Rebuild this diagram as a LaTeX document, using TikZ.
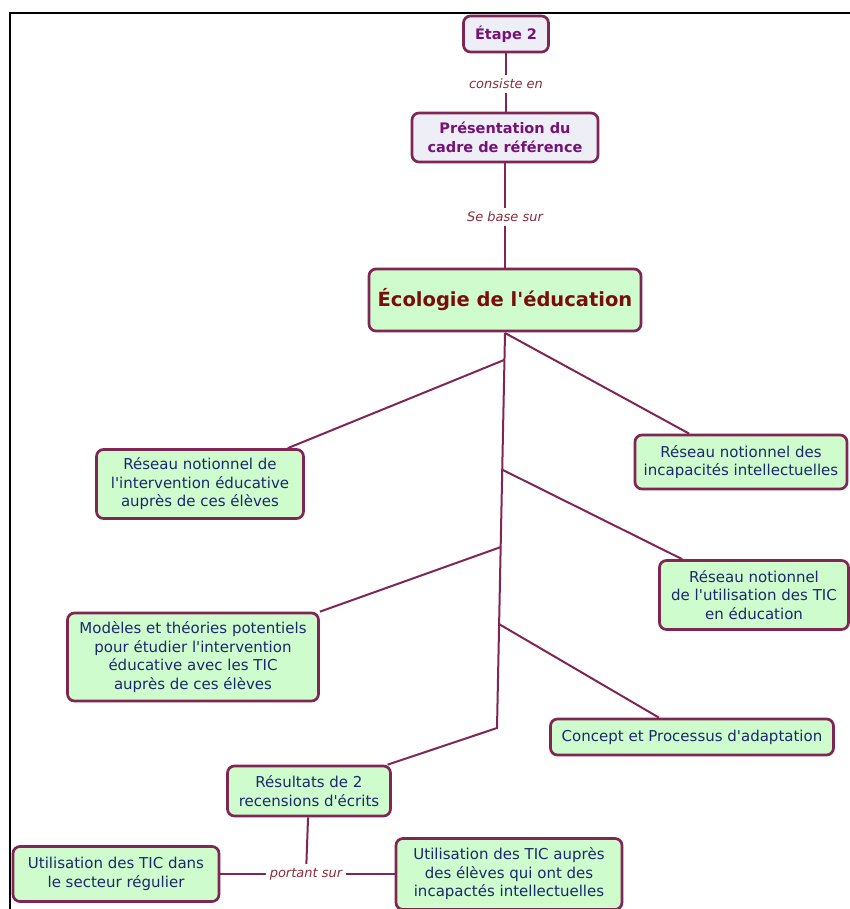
\documentclass[tikz,border=0pt]{standalone}
\usepackage{fontspec}
\setmainfont{DejaVu Sans}
\usetikzlibrary{calc}
\newcommand\sq{\textquotesingle}
\definecolor{bord}{RGB}{128,38,84}
\definecolor{lgreen}{RGB}{206,252,204}
\definecolor{lav}{RGB}{238,238,246}
\definecolor{purp}{RGB}{118,18,118}
\definecolor{ecored}{RGB}{122,12,12}
\definecolor{navy}{RGB}{28,40,108}
\definecolor{linkc}{RGB}{140,44,58}
\tikzset{
  box/.style={draw=bord, line width=2.7pt, rounded corners=7pt, align=center,
    inner sep=0pt, text=navy, font=\fontsize{15}{18.5}\selectfont},
  gbox/.style={box, fill=lgreen},
  pbox/.style={box, fill=lav, text=purp, font=\bfseries\fontsize{14.5}{18.5}\selectfont},
  link/.style={font=\itshape\fontsize{13}{15}\selectfont, text=linkc, inner sep=4pt},
  conn/.style={draw=bord, line width=2pt},
  frame/.style={draw=black, line width=2.6pt}
}
\begin{document}
\begin{tikzpicture}[x=1pt, y=-1pt]
\useasboundingbox (0,0) rectangle (850,909);
\fill[white] (0,0) rectangle (850,909);
% page frame
\draw[frame] (10,909) -- (10,13) -- (850,13);

% upper chain
\node[pbox, minimum width=85, minimum height=36] (etape) at (506,34) {Étape 2};
\node[link] (consiste) at (506,84) {consiste en};
\node[pbox, minimum width=186, minimum height=49] (pres) at (505,137.5) {Présentation du\\cadre de référence};
\node[link] (base) at (505,217) {Se base sur};
\node[gbox, text=ecored, font=\bfseries\fontsize{19.5}{22}\selectfont,
      minimum width=272, minimum height=62] (eco) at (505,300) {Écologie de l\sq éducation};

\draw[conn] (etape) -- (consiste) -- (etape |- pres.north);
\draw[conn] (pres) -- (base) -- (eco);

% concept nodes
\node[gbox, minimum width=207, minimum height=69] (rint) at (200,484)
  {Réseau notionnel de\\l\sq intervention éducative\\auprès de ces élèves};
\node[gbox, minimum width=212, minimum height=54] (rinc) at (741,462)
  {Réseau notionnel des\\incapacités intellectuelles};
\node[gbox, minimum width=189, minimum height=69] (rtic) at (754,595)
  {Réseau notionnel\\de l\sq utilisation des TIC\\en éducation};
\node[gbox, minimum width=251, minimum height=88] (mod) at (193,657)
  {Modèles et théories potentiels\\pour étudier l\sq intervention\\éducative avec les TIC\\auprès de ces élèves};
\node[gbox, minimum width=283, minimum height=36] (conc) at (692,737)
  {Concept et Processus d\sq adaptation};
\node[gbox, minimum width=163, minimum height=50] (res) at (309,791)
  {Résultats de 2\\recensions d\sq écrits};
\node[link] (port) at (306,874) {portant sur};
\node[gbox, minimum width=206, minimum height=55] (usec) at (116,874)
  {Utilisation des TIC dans\\le secteur régulier};
\node[gbox, minimum width=226, minimum height=71] (uel) at (509,874)
  {Utilisation des TIC auprès\\des élèves qui ont des\\incapactés intellectuelles};

% trunk below the central node
\coordinate (ttop) at (505,333);
\coordinate (tbot) at (497,728);
\coordinate (b1) at ($(ttop)!0.068!(tbot)$);
\coordinate (b2) at ($(ttop)!0.346!(tbot)$);
\coordinate (b3) at ($(ttop)!0.542!(tbot)$);
\coordinate (b4) at ($(ttop)!0.737!(tbot)$);

\draw[conn] (ttop) -- (tbot) -- (res);
\draw[conn] (ttop) -- (rinc);
\draw[conn] (b1) -- (rint);
\draw[conn] (b2) -- (rtic);
\draw[conn] (b3) -- (mod);
\draw[conn] (b4) -- (conc);

% lower linking phrase
\draw[conn] (res) -- (port);
\draw[conn] (port) -- (usec);
\draw[conn] (port) -- (uel);
\end{tikzpicture}
\end{document}
